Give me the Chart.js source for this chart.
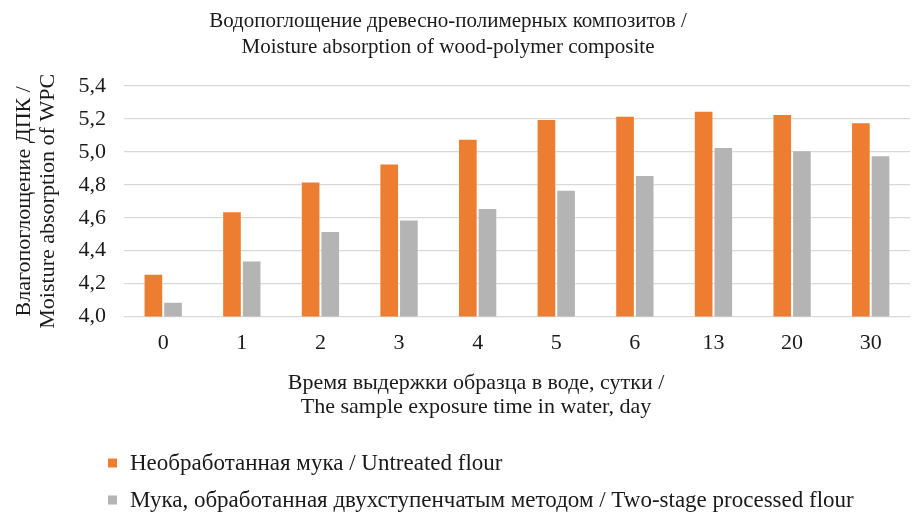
<!DOCTYPE html>
<html>
<head>
<meta charset="utf-8">
<script src="https://cdn.jsdelivr.net/npm/chart.js@4/dist/chart.umd.min.js"></script>
<style>
  html, body { margin: 0; padding: 0; background: #fff; }
  #wrap { width: 920px; height: 512px; }
</style>
</head>
<body>
<div id="wrap"><canvas id="c" width="920" height="512"></canvas></div>
<script>
// Exposure time in water, days
const days = ['0', '1', '2', '3', '4', '5', '6', '13', '20', '30'];
// Moisture absorption, %
const untreated = [4.26, 4.64, 4.82, 4.93, 5.08, 5.20, 5.22, 5.25, 5.23, 5.18];
const twoStage  = [4.09, 4.34, 4.52, 4.59, 4.66, 4.77, 4.86, 5.03, 5.01, 4.98];
const seriesNames = [
  'Необработанная мука / Untreated flour',
  'Мука, обработанная двухступенчатым методом / Two-stage processed flour'
];
const titleLines = [
  'Водопоглощение древесно-полимерных композитов /',
  'Moisture absorption of wood-polymer composite'
];
const yTitleLines = ['Влагопоглощение ДПК /', 'Moisture absorption of WPC'];
const xTitleLines = ['Время выдержки образца в воде, сутки /', 'The sample exposure time in water, day'];

const FONT = '"Liberation Serif", "Times New Roman", serif';
const TEXT = '#1a1a1a';
Chart.defaults.font.family = FONT;
Chart.defaults.color = TEXT;

// Chart title, x-axis caption and a vertical left-aligned legend
const captions = {
  id: 'captions',
  afterDraw(chart) {
    const ctx = chart.ctx;
    ctx.save();
    ctx.fillStyle = TEXT;
    ctx.textBaseline = 'middle';

    ctx.textAlign = 'center';
    ctx.font = '21px ' + FONT;
    titleLines.forEach((t, i) => ctx.fillText(t, 448, 21 + i * 26));

    ctx.font = '22px ' + FONT;
    xTitleLines.forEach((t, i) => ctx.fillText(t, 476, 383 + i * 24));

    ctx.textAlign = 'left';
    ctx.font = '23px ' + FONT;
    const rows = [463, 500];
    chart.data.datasets.forEach((ds, i) => {
      const y = rows[i];
      ctx.fillStyle = ds.backgroundColor;
      ctx.fillRect(108, y - 4.5, 9, 9);
      ctx.fillStyle = TEXT;
      ctx.fillText(ds.label, 130, y + 1);
    });
    ctx.restore();
  }
};

new Chart(document.getElementById('c'), {
  type: 'bar',
  data: {
    labels: days,
    datasets: [
      { label: seriesNames[0], data: untreated, backgroundColor: '#ED7D31',
        borderColor: 'rgba(255,255,255,0.25)', borderWidth: 1 },
      { label: seriesNames[1], data: twoStage, backgroundColor: '#B4B4B4',
        borderColor: 'rgba(255,255,255,0.25)', borderWidth: 1 }
    ]
  },
  options: {
    responsive: false,
    animation: false,
    devicePixelRatio: 1,
    layout: { padding: { left: 12, right: 10, top: 86, bottom: 143 } },
    datasets: { bar: { categoryPercentage: 0.5, barPercentage: 1.0 } },
    plugins: {
      legend: { display: false },
      tooltip: { enabled: false },
      title: { display: false }
    },
    scales: {
      x: {
        grid: { display: false, drawTicks: false },
        border: { display: false },
        ticks: { font: { size: 22 }, color: TEXT, padding: 13 }
      },
      y: {
        min: 4.0,
        max: 5.4,
        ticks: {
          stepSize: 0.2,
          font: { size: 22 },
          color: TEXT,
          padding: 18,
          callback: v => Number(v).toFixed(1).replace('.', ',')
        },
        grid: { color: '#d9d9d9', lineWidth: 1.2, drawTicks: false },
        border: { display: false },
        title: {
          display: true,
          text: yTitleLines,
          font: { size: 22, lineHeight: 1.1 },
          color: TEXT,
          padding: { top: 0, bottom: 0 }
        }
      }
    }
  },
  plugins: [captions]
});
</script>
</body>
</html>
